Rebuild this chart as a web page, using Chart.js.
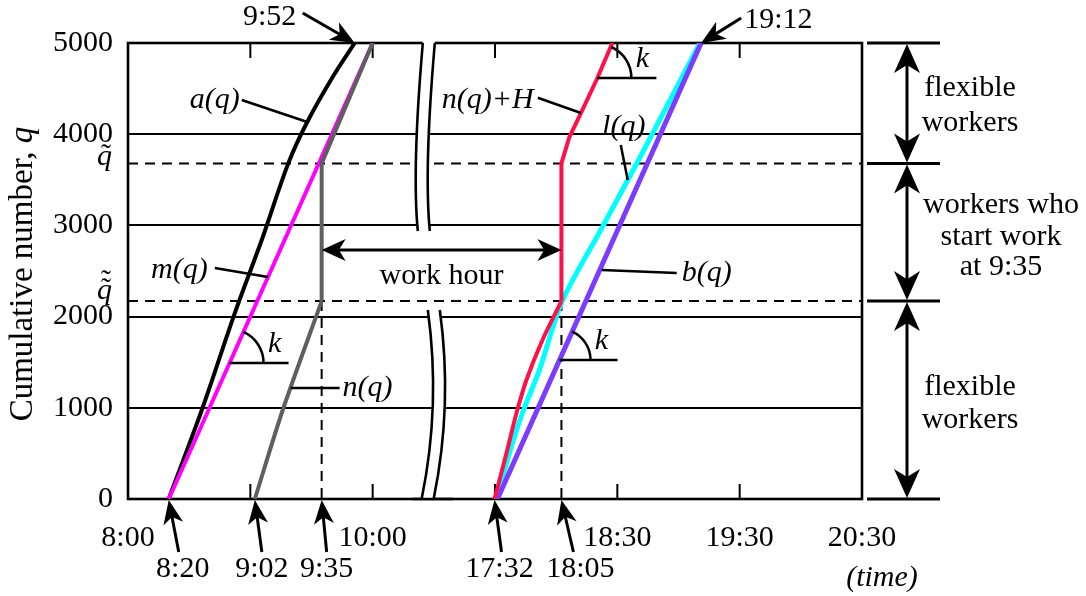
<!DOCTYPE html>
<html>
<head>
<meta charset="utf-8">
<script src="https://cdn.jsdelivr.net/npm/chart.js@4.4.1/dist/chart.umd.min.js"></script>
<style>
  html, body { margin: 0; padding: 0; background: #fff; }
  #wrap { width: 1086px; height: 596px; }
</style>
</head>
<body>
<div id="wrap"><canvas id="chart" width="1086" height="596"></canvas></div>
<script>
// hours cut out of the time axis (the break between morning and evening)
var SHIFT = 6.5;
var qTilde = 3680;
var qTilde2 = 2170;

var xTickLabels = ['8:00', '10:00', '18:30', '19:30', '20:30'];
var xMinorTicks = [9, 10, 17.5, 18.5, 19.5];
var bottomMarks = ['8:20', '9:02', '9:35', '17:32', '18:05'];
var topMarks = ['9:52', '19:12'];

// a(q): arrivals (black)
var aTime = [8.333, 8.612, 8.873, 9.102, 9.31, 9.461, 9.673, 9.853];
var aQ    = [0, 1009, 2039, 2873, 3680, 4123, 4627, 5000];
// m(q) (magenta)
var mTime = [8.333, 10.0];
var mQ    = [0, 5000];
// n(q) (grey)
var nTime = [9.037, 9.265, 9.583, 9.583, 10.0];
var nQ    = [0, 976, 2170, 3680, 5000];
// n(q)+H (red)
var nhTime = [17.496, 17.594, 17.676, 17.757, 17.888, 18.043, 18.043, 18.108, 18.214, 18.337, 18.459];
var nhQ    = [0, 504, 943, 1305, 1743, 2170, 3680, 3969, 4265, 4616, 5000];
// l(q) (cyan)
var lTime = [17.512, 17.618, 17.724, 17.863, 18.05, 18.378, 18.704, 19.175];
var lQ    = [0, 504, 943, 1414, 2170, 2982, 3794, 5000];
// b(q) (purple)
var bTime = [17.52, 19.185];
var bQ    = [0, 5000];

var SERIF = "'Liberation Serif', 'Times New Roman', serif";
var FS = 30;

function disp(t) { return t > 12 ? t - SHIFT : t; }
function parseT(s) { var p = s.split(':'); return +p[0] + p[1] / 60; }
function fmtT(h) {
  var m = Math.round(h * 60);
  var mm = m % 60;
  return Math.floor(m / 60) + ':' + (mm < 10 ? '0' : '') + mm;
}
function pts(ts, qs) {
  return ts.map(function (t, i) { return { x: disp(t), y: qs[i] }; });
}
// time of a series at cumulative number q
function tAt(ts, qs, q) {
  for (var i = 0; i < qs.length - 1; i++) {
    if (q >= qs[i] && q <= qs[i + 1]) {
      if (qs[i + 1] === qs[i]) return ts[i];
      return ts[i] + (ts[i + 1] - ts[i]) * (q - qs[i]) / (qs[i + 1] - qs[i]);
    }
  }
  return ts[ts.length - 1];
}

function line(ctx, x1, y1, x2, y2, w, dash) {
  ctx.save();
  ctx.strokeStyle = '#000';
  ctx.lineWidth = w || 2;
  ctx.setLineDash(dash || []);
  ctx.beginPath();
  ctx.moveTo(x1, y1);
  ctx.lineTo(x2, y2);
  ctx.stroke();
  ctx.restore();
}
function head(ctx, tx, ty, fx, fy, len, half) {
  var a = Math.atan2(ty - fy, tx - fx);
  ctx.save();
  ctx.fillStyle = '#000';
  ctx.translate(tx, ty);
  ctx.rotate(a);
  ctx.beginPath();
  ctx.moveTo(0, 0);
  ctx.lineTo(-len, -half);
  ctx.lineTo(-len * 0.72, 0);
  ctx.lineTo(-len, half);
  ctx.closePath();
  ctx.fill();
  ctx.restore();
}
function arrow(ctx, fx, fy, tx, ty, len, half, w) {
  var a = Math.atan2(ty - fy, tx - fx);
  line(ctx, fx, fy, tx - Math.cos(a) * len * 0.6, ty - Math.sin(a) * len * 0.6, w || 3);
  head(ctx, tx, ty, fx, fy, len, half);
}
function text(ctx, s, x, y, align, italic, size) {
  ctx.save();
  ctx.fillStyle = '#000';
  ctx.font = (italic ? 'italic ' : '') + (size || FS) + 'px ' + SERIF;
  ctx.textAlign = align || 'center';
  ctx.textBaseline = 'middle';
  ctx.fillText(s, x, y);
  ctx.restore();
}

var decor = {
  id: 'decor',
  beforeDatasetsDraw: function (chart) {
    var ctx = chart.ctx, xs = chart.scales.x, ys = chart.scales.y, A = chart.chartArea;
    var X = function (t) { return xs.getPixelForValue(disp(t)); };
    var Y = function (q) { return ys.getPixelForValue(q); };

    // dashed levels q~ and q~~
    line(ctx, A.left, Y(qTilde), A.right, Y(qTilde), 2, [10, 7]);
    line(ctx, A.left, Y(qTilde2), A.right, Y(qTilde2), 2, [10, 7]);
    // dashed verticals at the start / end of fixed work
    var t935 = tAt(nTime, nQ, qTilde2), t1805 = tAt(nhTime, nhQ, qTilde2);
    line(ctx, X(t935), Y(qTilde2), X(t935), A.bottom, 2, [10, 7]);
    line(ctx, X(t1805), Y(qTilde2), X(t1805), A.bottom, 2, [10, 7]);

    // frame
    ctx.save();
    ctx.strokeStyle = '#000';
    ctx.lineWidth = 2.6;
    ctx.strokeRect(A.left, A.top, A.right - A.left, A.bottom - A.top);
    ctx.restore();
    // inward ticks
    xMinorTicks.forEach(function (t) {
      line(ctx, X(t), A.bottom, X(t), A.bottom - 15, 2);
      line(ctx, X(t), A.top, X(t), A.top + 15, 2);
    });

    // axis break
    var bx = xs.getPixelForValue(10.41), gap = 12;
    var segs = [
      [A.top - 2, 231, -11, 170],
      [310, A.bottom - 1, 13, 405]
    ];
    segs.forEach(function (s) {
      var y0 = s[0], y1 = s[1], dx = s[2], cy = s[3];
      var x0 = dx < 0 ? bx : bx + 5, x1 = dx < 0 ? bx - 5 : bx - 1;
      var cx = dx < 0 ? bx + dx : bx + 5 + dx;
      ctx.save();
      ctx.fillStyle = '#fff';
      ctx.beginPath();
      ctx.moveTo(x0, y0);
      ctx.quadraticCurveTo(cx, cy, x1, y1);
      ctx.lineTo(x1 + gap, y1);
      ctx.quadraticCurveTo(cx + gap, cy, x0 + gap, y0);
      ctx.closePath();
      ctx.fill();
      ctx.strokeStyle = '#000';
      ctx.lineWidth = 2.6;
      for (var k = 0; k < 2; k++) {
        ctx.beginPath();
        ctx.moveTo(x0 + k * gap, Math.max(y0, A.top));
        ctx.quadraticCurveTo(cx + k * gap, cy, x1 + k * gap, y1);
        ctx.stroke();
      }
      ctx.restore();
    });
    // redraw bottom frame across the break
    line(ctx, bx - 10, A.bottom, bx + 30, A.bottom, 2.6);
  },
  afterDatasetsDraw: function (chart) {
    var ctx = chart.ctx, xs = chart.scales.x, ys = chart.scales.y, A = chart.chartArea;
    var X = function (t) { return xs.getPixelForValue(disp(t)); };
    var Y = function (q) { return ys.getPixelForValue(q); };
    var angleAt = function (ts, qs, q) {
      var lo = Math.max(0, q - 250), hi = Math.min(5000, q + 250);
      return Math.atan2(Y(hi) - Y(lo), X(tAt(ts, qs, hi)) - X(tAt(ts, qs, lo)));
    };
    var kMark = function (ts, qs, q, len, r) {
      var x0 = X(tAt(ts, qs, q)), y0 = Y(q);
      line(ctx, x0, y0, x0 + len, y0, 2.5);
      ctx.save();
      ctx.lineWidth = 2.5;
      ctx.strokeStyle = '#000';
      ctx.beginPath();
      ctx.arc(x0, y0, r, angleAt(ts, qs, q), 0);
      ctx.stroke();
      ctx.restore();
      text(ctx, 'k', x0 + r + 11, y0 - 19, 'center', true);
    };

    // y special labels q~ and q~~
    [[qTilde, 1], [qTilde2, 2]].forEach(function (d) {
      var y = Y(d[0]) + (d[1] === 1 ? 2 : -2);
      ctx.save();
      ctx.fillStyle = '#000';
      ctx.textBaseline = 'alphabetic';
      ctx.textAlign = 'right';
      ctx.font = 'italic ' + FS + 'px ' + SERIF;
      ctx.fillText('q', 112, y);
      ctx.textAlign = 'center';
      ctx.font = FS + 'px ' + SERIF;
      for (var i = 0; i < d[1]; i++) ctx.fillText('\u02DC', 106, y - 1 - i * 8);
      ctx.restore();
    });

    // y axis title
    ctx.save();
    ctx.translate(23, 274);
    ctx.rotate(-Math.PI / 2);
    ctx.fillStyle = '#000';
    ctx.textBaseline = 'middle';
    ctx.textAlign = 'left';
    var TS = 33;
    ctx.font = TS + 'px ' + SERIF;
    var s1 = 'Cumulative number, ';
    var w1 = ctx.measureText(s1).width;
    ctx.font = 'italic ' + TS + 'px ' + SERIF;
    var w2 = ctx.measureText('q').width;
    ctx.font = TS + 'px ' + SERIF;
    ctx.fillText(s1, -(w1 + w2) / 2, 0);
    ctx.font = 'italic ' + TS + 'px ' + SERIF;
    ctx.fillText('q', -(w1 + w2) / 2 + w1, 0);
    ctx.restore();

    // bottom time markers: arrows point at where the curves start / turn
    var tips = [aTime[0], nTime[0], tAt(nTime, nQ, qTilde2), nhTime[0], tAt(nhTime, nhQ, qTilde2)];
    var tail = [10, 7, 5, 7, 12], lab = [14, 7, 5, 5, 19];
    tips.forEach(function (t, i) {
      var x = X(t);
      arrow(ctx, x + tail[i], A.bottom + 53, x, A.bottom + 1, 24, 10, 3);
      text(ctx, bottomMarks[i], x + lab[i], A.bottom + 70);
    });
    text(ctx, '(time)', 882, 578, 'center', true);

    // top time markers
    var tEndA = aTime[aTime.length - 1], tEndB = bTime[bTime.length - 1];
    arrow(ctx, X(tEndA) - 52, A.top - 30, X(tEndA), A.top, 24, 10, 3);
    text(ctx, topMarks[0], X(tEndA) - 85, 17);
    arrow(ctx, X(tEndB) + 40, A.top - 25, X(tEndB), A.top, 24, 10, 3);
    text(ctx, topMarks[1], X(tEndB) + 43, 20, 'left');

    // curve labels
    text(ctx, 'a(q)', X(8.71), Y(4375), 'center', true);
    line(ctx, X(8.93), Y(4375), X(tAt(aTime, aQ, 4134)), Y(4134), 2.5);
    text(ctx, 'm(q)', X(8.42), Y(2511), 'center', true);
    line(ctx, X(8.71), Y(2533), X(tAt(mTime, mQ, 2434)), Y(2434), 2.5);
    var nx = X(tAt(nTime, nQ, 1217));
    line(ctx, nx, Y(1217), nx + 49, Y(1217), 2.5);
    text(ctx, 'n(q)', nx + 52, Y(1217), 'left', true);
    text(ctx, 'n(q)+H', X(17.44), Y(4375), 'center', true);
    line(ctx, X(17.85), Y(4400), X(tAt(nhTime, nhQ, 4232)), Y(4232), 2.5);
    var lq = 3498, lx = X(tAt(lTime, lQ, lq));
    line(ctx, lx - 7, Y(lq) - 35, lx, Y(lq), 2.5);
    text(ctx, 'l(q)', lx - 4, Y(lq) - 53, 'center', true);
    var bq = 2511, bx = X(tAt(bTime, bQ, bq));
    line(ctx, bx + 2, Y(bq), bx + 77, Y(bq) + 3, 2.5);
    text(ctx, 'b(q)', bx + 82, Y(bq) + 3, 'left', true);

    kMark(mTime, mQ, 1491, 59, 34);
    kMark(nhTime, nhQ, 4616, 59, 34);
    kMark(bTime, bQ, 1524, 58, 31);

    // work hour
    var wy = Y(2730), wx0 = X(tAt(nTime, nQ, qTilde2)), wx1 = X(tAt(nhTime, nhQ, qTilde2));
    line(ctx, wx0 + 15, wy, wx1 - 15, wy, 3);
    head(ctx, wx0, wy, wx1, wy, 24, 11);
    head(ctx, wx1, wy, wx0, wy, 24, 11);
    text(ctx, 'work hour', (wx0 + wx1) / 2, Y(2440));

    // right brackets
    var levels = [5000, qTilde, qTilde2, 0];
    levels.forEach(function (q) { line(ctx, A.right + 5, Y(q), A.right + 78, Y(q), 3); });
    var ax = A.right + 45;
    for (var i = 0; i < 3; i++) {
      var y0 = Y(levels[i]) + 1, y1 = Y(levels[i + 1]) - 1;
      line(ctx, ax, y0 + 15, ax, y1 - 15, 3);
      head(ctx, ax, y0, ax, y1, 29, 13);
      head(ctx, ax, y1, ax, y0, 29, 13);
    }
    var c1 = (Y(5000) + Y(qTilde)) / 2, c2 = (Y(qTilde) + Y(qTilde2)) / 2, c3 = (Y(qTilde2) + Y(0)) / 2;
    text(ctx, 'flexible', 970, c1 - 15);
    text(ctx, 'workers', 970, c1 + 20);
    text(ctx, 'workers who', 1001, c2 - 27);
    text(ctx, 'start work', 1001, c2 + 5);
    text(ctx, 'at 9:35', 1001, c2 + 35);
    text(ctx, 'flexible', 970, c3 - 13);
    text(ctx, 'workers', 970, c3 + 20);
  }
};

function ds(label, ts, qs, color, width, order, tension) {
  return {
    label: label,
    data: pts(ts, qs),
    borderColor: color,
    backgroundColor: color,
    borderWidth: width,
    showLine: true,
    pointRadius: 0,
    tension: tension || 0,
    borderCapStyle: 'butt',
    borderJoinStyle: 'round',
    order: order
  };
}

var RED = '#ff1048', GREY = '#5f5f5f';
var ctx = document.getElementById('chart').getContext('2d');
var chart = new Chart(ctx, {
  type: 'scatter',
  data: {
    datasets: [
      ds('a(q)', aTime, aQ, '#000000', 4, 3, 0.35),
      ds('m(q)', mTime, mQ, '#ff00ff', 4, 2),
      ds('n(q)', nTime.slice(0, 3), nQ.slice(0, 3), GREY, 4, 1, 0.3),
      ds('n(q)', nTime.slice(2), nQ.slice(2), GREY, 4, 1),
      ds('l(q)', lTime, lQ, '#00ffff', 5, 6, 0.3),
      ds('b(q)', bTime, bQ, '#7b3cff', 5, 5),
      ds('n(q)+H', nhTime.slice(0, 6), nhQ.slice(0, 6), RED, 4, 4, 0.35),
      ds('n(q)+H', nhTime.slice(5), nhQ.slice(5), RED, 4, 4)
    ]
  },
  options: {
    responsive: false,
    animation: false,
    devicePixelRatio: 1,
    layout: { padding: { left: 0, top: 43, right: 224, bottom: 0 } },
    plugins: { legend: { display: false }, tooltip: { enabled: false } },
    scales: {
      x: {
        type: 'linear',
        min: 8,
        max: 14,
        afterBuildTicks: function (s) {
          s.ticks = xTickLabels.map(function (l) { return { value: disp(parseT(l)) }; });
        },
        afterFit: function (s) { s.height = 97; },
        ticks: {
          autoSkip: false,
          maxRotation: 0,
          padding: 13,
          color: '#000',
          font: { family: SERIF, size: FS },
          callback: function (v) { return fmtT(v > 11 ? v + SHIFT : v); }
        },
        grid: { display: false },
        border: { display: false }
      },
      y: {
        min: 0,
        max: 5000,
        afterFit: function (s) { s.width = 128; },
        ticks: {
          stepSize: 1000,
          padding: 15,
          color: '#000',
          font: { family: SERIF, size: FS },
          callback: function (v) { return String(v); }
        },
        grid: { color: '#000', lineWidth: 2, drawTicks: false },
        border: { display: false }
      }
    }
  },
  plugins: [decor]
});
</script>
</body>
</html>
